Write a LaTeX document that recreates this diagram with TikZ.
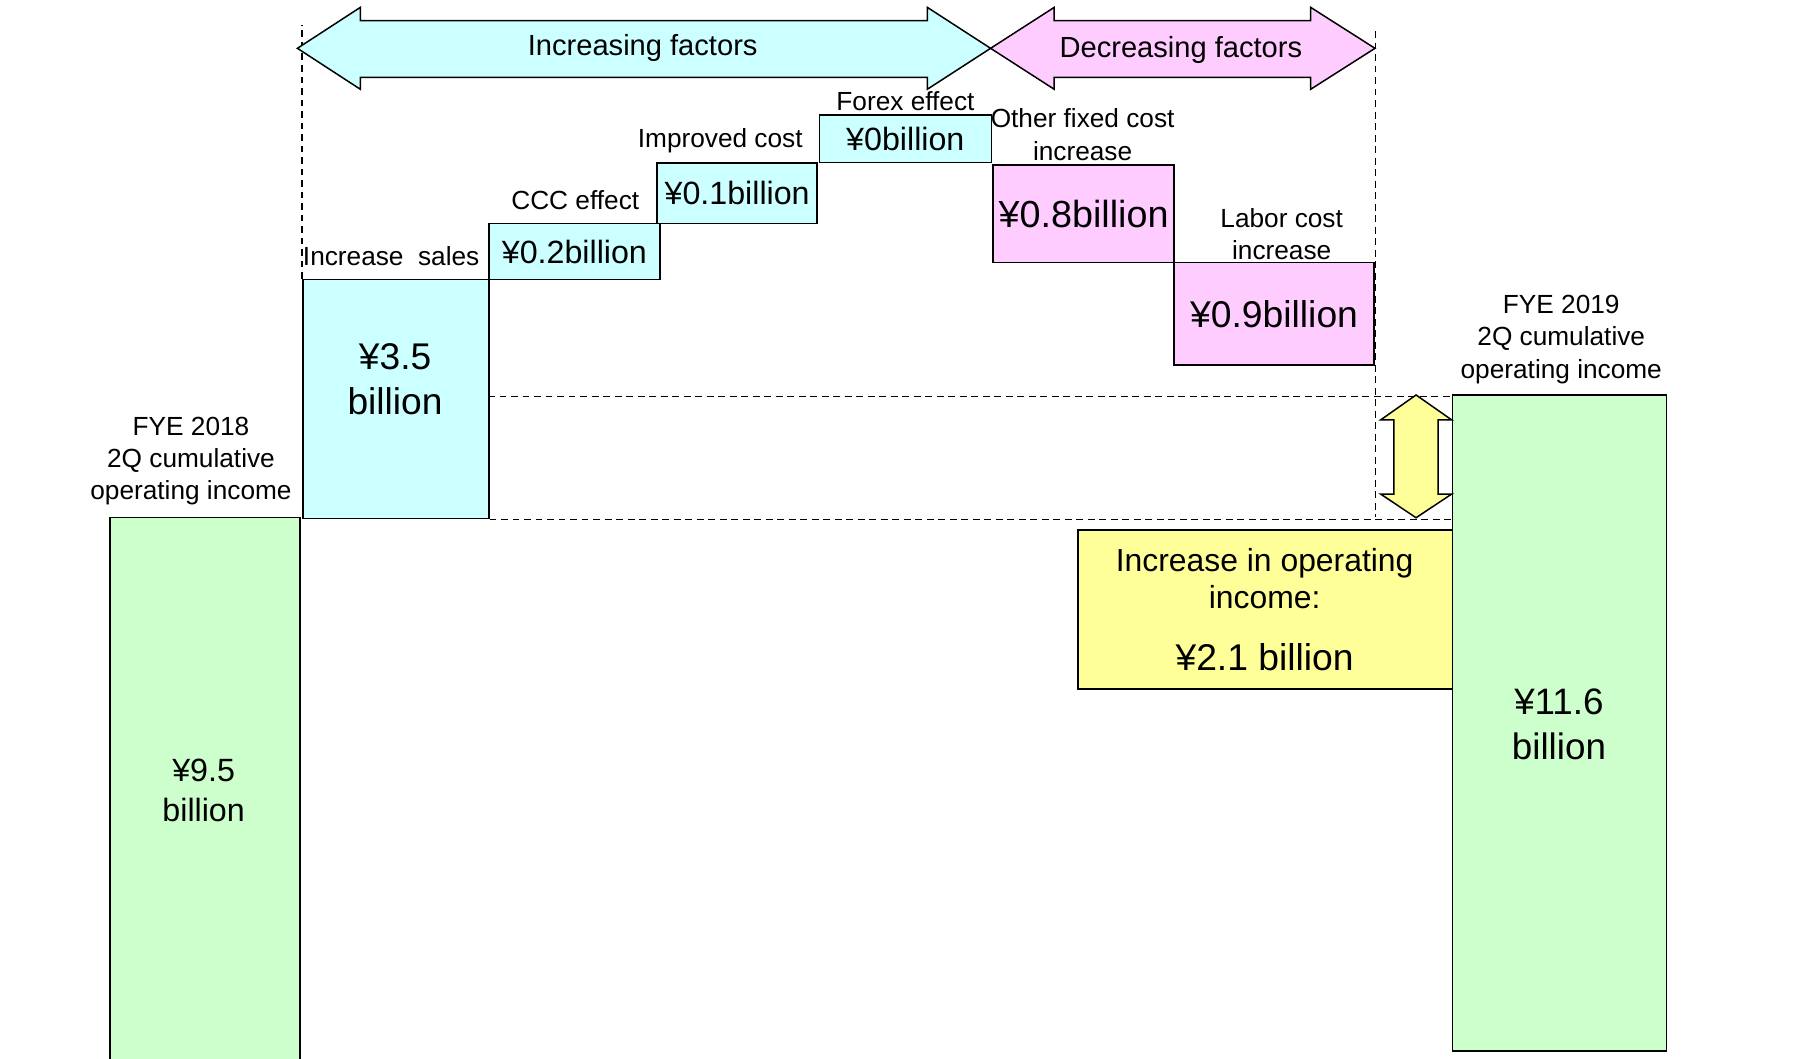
\documentclass[tikz,border=0pt]{standalone}
\usepackage{fontspec}
\setmainfont{Liberation Sans}

\definecolor{incfill}{HTML}{CCFFFF}
\definecolor{decfill}{HTML}{FFCCFF}
\definecolor{totfill}{HTML}{CCFFCC}
\definecolor{difffill}{HTML}{FFFF99}

\newcommand{\fs}[2]{\fontsize{#1}{#2}\selectfont}

\tikzset{
  bar/.style={draw=black, line width=1.3pt, inner sep=0pt, anchor=north west},
  incbar/.style={bar, fill=incfill},
  decbar/.style={bar, fill=decfill},
  totbar/.style={bar, fill=totfill},
  diffbar/.style={bar, fill=difffill},
  txt/.style={inner sep=0pt, align=center},
  lbl/.style={txt, font=\fs{22.8}{28}},
  guide/.style={draw=black, line width=1.2pt, dash pattern=on 6pt off 4pt},
  bigarrow/.style={draw=black, line width=1.3pt, line join=miter},
}

\begin{document}
\begin{tikzpicture}[x=1pt, y=-1pt]
\useasboundingbox (0,0) rectangle (1568,920);

% bars of the bridge
\node[totbar, minimum width=165pt, minimum height=500pt] (tot18) at (95,449) {};
\node[incbar, minimum width=161.7pt, minimum height=207.5pt] (sales) at (262.5,242.5) {};
\node[incbar, minimum width=148.8pt, minimum height=49pt, font=\fs{28}{32}] (ccc) at (424.2,193.5) {¥0.2billion};
\node[incbar, minimum width=138.9pt, minimum height=52.4pt, font=\fs{28}{32}] (cost) at (570.6,141.1) {¥0.1billion};
\node[incbar, minimum width=149.5pt, minimum height=41.7pt, font=\fs{28}{32}] (forex) at (711.5,99.1) {¥0billion};
\node[decbar, minimum width=157.3pt, minimum height=84.6pt, font=\fs{32.8}{38}] (fixed) at (862.5,142.8) {¥0.8billion};
\node[decbar, minimum width=173.9pt, minimum height=89.3pt, font=\fs{32.4}{38}] (labor) at (1019.8,227.4) {¥0.9billion};

% guide lines
\coordinate (lefttop) at (262.5,22);
\coordinate (righttop) at (1195.7,27);
\coordinate (rightbot) at (1195.7,449.5);
\coordinate (upperL) at (424.2,344.8);
\coordinate (upperR) at (1261.8,344.8);
\draw[guide] (sales.north west) -- (lefttop);
\draw[guide] (righttop) -- (rightbot);
\draw[guide] (upperL) -- (upperR);
\draw[guide] (sales.south east) -- (sales.south east -| upperR);

% difference box and closing bar
\node[diffbar, minimum width=325.4pt, minimum height=138.3pt] (diff) at (936.4,460) {};
\node[totbar, minimum width=186.2pt, minimum height=570.5pt] (tot19) at (1261.8,342.5) {};

% factor arrows
\draw[bigarrow, fill=incfill] (258.5,42) -- (313.2,6.4) -- (313.2,18) -- (806,18) -- (806,6.4)
  -- (861,42) -- (806,77.6) -- (806,67.2) -- (313.2,67.2) -- (313.2,77.6) -- cycle;
\draw[bigarrow, fill=decfill] (861,42) -- (916.3,6.4) -- (916.3,18) -- (1139.2,18) -- (1139.2,6.4)
  -- (1195.1,42) -- (1139.2,77.6) -- (1139.2,67.2) -- (916.3,67.2) -- (916.3,77.6) -- cycle;
\node[txt, font=\fs{25.3}{30}] (inctitle) at (558.6,42) {Increasing factors};
\node[txt, font=\fs{25.3}{30}] (dectitle) at (1026.4,43.5) {Decreasing factors};

% difference arrow
\draw[bigarrow, fill=difffill] (1230.8,343.3) -- (1261.8,365) -- (1250,365) -- (1250,429.4)
  -- (1261.8,429.4) -- (1230.8,450) -- (1200,429.4) -- (1211.6,429.4) -- (1211.6,365)
  -- (1200,365) -- cycle;

% values inside bars
\node[txt, font=\fs{32.3}{39}] (salesval) at (343.4,329.5) {¥3.5\\billion};
\node[txt, font=\fs{28}{34}] (tot18val) at (177,687) {¥9.5\\billion};
\node[txt, font=\fs{32}{39}] (tot19val) at (1355,629.5) {¥11.6\\billion};
\node[txt, font=\fs{27.7}{32.5}] (diffhead) at (1099.2,503) {Increase in operating\\income:};
\node[txt, font=\fs{32.4}{38}] (diffval) at (1099.2,571) {¥2.1 billion};

% labels above bars
\node[lbl] (lsales) at (340,223) {Increase\ \ sales};
\node[lbl] (lccc) at (500,174) {CCC effect};
\node[lbl] (lcost) at (626,122.6) {Improved cost};
\node[lbl] (lforex) at (787,87.5) {Forex effect};
\node[lbl] (lfixed) at (941,117) {Other fixed cost\\increase};
\node[lbl] (llabor) at (1114,203.5) {Labor cost\\increase};
\node[lbl] (l18) at (166,400.7) {FYE 2018\\2Q cumulative\\operating income};
\node[lbl] (l19) at (1357,295) {FYE 2019\\2Q cumulative\\operating income};
\end{tikzpicture}
\end{document}
